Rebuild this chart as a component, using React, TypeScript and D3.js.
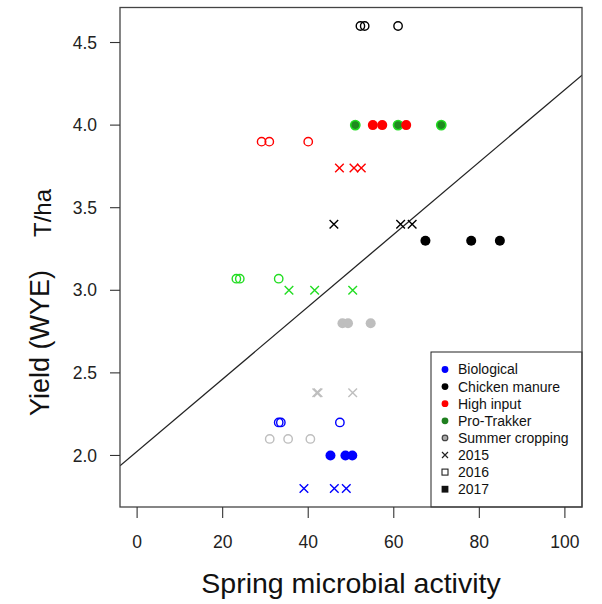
import React from "react";
import * as d3 from "d3";

// ---- data ----
const groups = ["Biological", "Chicken manure", "High input", "Pro-Trakker", "Summer cropping"];
const years = ["2015", "2016", "2017"];

const biologicalX2015 = [39.0, 46.1, 48.9];
const biologicalX2016 = [33.1, 33.6, 47.4];
const biologicalX2017 = [45.2, 48.7, 50.3];
const biologicalYield = [1.8, 2.2, 2.0];

const chickenX2015 = [46.0, 61.6, 64.3];
const chickenX2016 = [52.2, 53.2, 61.0];
const chickenX2017 = [67.4, 78.1, 84.8];
const chickenYield = [3.4, 4.6, 3.3];

const highX2015 = [47.3, 50.7, 52.4];
const highX2016 = [29.1, 30.9, 40.0];
const highX2017 = [55.1, 57.3, 62.9];
const highYield = [3.74, 3.9, 4.0];

const proX2015 = [35.5, 41.5, 50.4];
const proX2016 = [23.2, 24.0, 33.1];
const proX2017 = [51.0, 61.0, 71.1];
const proYield = [3.0, 3.07, 4.0];

const summerX2015 = [42.0, 42.3, 50.4];
const summerX2016 = [31.0, 35.3, 40.5];
const summerX2017 = [48.0, 49.3, 54.6];
const summerYield = [2.38, 2.1, 2.8];

const xTicks = [0, 20, 40, 60, 80, 100];
const yTicks = [2.0, 2.5, 3.0, 3.5, 4.0, 4.5];
const fitIntercept = 2.025;
const fitSlope = 0.0219;

const groupColors = ["#0000ff", "#000000", "#ff0000", "#22dd22", "#bebebe"];
const legendColors = ["#0000ff", "#000000", "#ff0000", "#1f7f1f", "#bebebe"];

const groupX = [
  [biologicalX2015, biologicalX2016, biologicalX2017],
  [chickenX2015, chickenX2016, chickenX2017],
  [highX2015, highX2016, highX2017],
  [proX2015, proX2016, proX2017],
  [summerX2015, summerX2016, summerX2017],
];
const groupYield = [biologicalYield, chickenYield, highYield, proYield, summerYield];

const W = 602;
const H = 604;
const left = 120;
const right = 582;
const top = 7.5;
const bottom = 507;
const FONT = "'Liberation Sans', Arial, Helvetica, sans-serif";

export default function App() {
  const x = d3.scaleLinear().domain([-4, 104]).range([left, right]);
  const y = d3.scaleLinear().domain([1.688, 4.712]).range([bottom, top]);

  const pts: { g: number; yr: number; xv: number; yv: number }[] = [];
  const drawOrder = [4, 0, 1, 3, 2];
  years.forEach((_, yr) => {
    drawOrder.forEach((g) => {
      groupX[g][yr].forEach((xv) => pts.push({ g, yr, xv, yv: groupYield[g][yr] }));
    });
  });

  const renderPoint = (p: { g: number; yr: number; xv: number; yv: number }, i: number) => {
    const cx = x(p.xv);
    const cy = y(p.yv);
    const c = groupColors[p.g];
    if (p.yr === 0) {
      const s = 4.3;
      return (
        <path
          key={i}
          d={`M${cx - s},${cy - s}L${cx + s},${cy + s}M${cx - s},${cy + s}L${cx + s},${cy - s}`}
          stroke={c}
          strokeWidth={1.4}
          fill="none"
        />
      );
    }
    if (p.yr === 1) {
      return <circle key={i} cx={cx} cy={cy} r={4.2} stroke={c} strokeWidth={1.4} fill="none" />;
    }
    if (p.g === 3) {
      return <circle key={i} cx={cx} cy={cy} r={4.6} fill="#1f8a1f" stroke={c} strokeWidth={1.6} />;
    }
    return <circle key={i} cx={cx} cy={cy} r={5} fill={c} />;
  };

  const x0 = -4;
  const x1 = 104;
  const lineData: [number, number][] = [
    [x0, fitIntercept + fitSlope * x0],
    [x1, fitIntercept + fitSlope * x1],
  ];
  const line = d3
    .line<[number, number]>()
    .x((d) => x(d[0]))
    .y((d) => y(d[1]));

  const legendLeft = 431;
  const legendTop = 352;
  const legendRowY = (i: number) => 369.5 + i * 17.1;
  const legendSymX = 445;
  const legendTextX = 458;

  return (
    <svg
      width={W}
      height={H}
      style={{ position: "absolute", left: 0, top: 0, background: "#fff" }}
      fontFamily={FONT}
    >
      <rect x={0} y={0} width={W} height={H} fill="#fff" />
      <defs>
        <clipPath id="plotclip">
          <rect x={left} y={top} width={right - left} height={bottom - top} />
        </clipPath>
      </defs>

      {/* regression line */}
      <path d={line(lineData) || ""} stroke="#222" strokeWidth={1.3} fill="none" clipPath="url(#plotclip)" />

      {/* points */}
      <g clipPath="url(#plotclip)">{pts.map(renderPoint)}</g>

      {/* legend */}
      <rect x={legendLeft} y={legendTop} width={right - legendLeft} height={bottom - legendTop} fill="#fff" stroke="#222" strokeWidth={1} />
      {groups.map((name, i) => (
        <g key={name}>
          {i < 4 ? (
            <circle cx={legendSymX} cy={legendRowY(i)} r={3.4} fill={legendColors[i]} />
          ) : (
            <circle cx={legendSymX} cy={legendRowY(i)} r={2.8} fill="#aaa" stroke="#444" strokeWidth={1.2} />
          )}
          <text x={legendTextX} y={legendRowY(i)} dy="0.35em" fontSize={14} fill="#111">
            {name}
          </text>
        </g>
      ))}
      {years.map((yr, j) => {
        const i = groups.length + j;
        const cy = legendRowY(i);
        const s = 3;
        return (
          <g key={yr}>
            {j === 0 && (
              <path d={`M${legendSymX - s},${cy - s}L${legendSymX + s},${cy + s}M${legendSymX - s},${cy + s}L${legendSymX + s},${cy - s}`} stroke="#222" strokeWidth={1.2} />
            )}
            {j === 1 && <rect x={legendSymX - s} y={cy - s} width={2 * s} height={2 * s} fill="none" stroke="#222" strokeWidth={1.1} />}
            {j === 2 && <rect x={legendSymX - 3.4} y={cy - 3.4} width={6.8} height={6.8} fill="#111" />}
            <text x={legendTextX} y={cy} dy="0.35em" fontSize={14} fill="#111">
              {yr}
            </text>
          </g>
        );
      })}

      {/* plot box */}
      <rect x={left} y={top} width={right - left} height={bottom - top} fill="none" stroke="#444" strokeWidth={1.3} />

      {/* x axis */}
      {xTicks.map((t) => (
        <g key={t}>
          <line x1={x(t)} x2={x(t)} y1={bottom} y2={bottom + 11} stroke="#333" strokeWidth={1.1} />
          <text x={x(t)} y={542} dy="0.35em" textAnchor="middle" fontSize={17.5} fill="#222">
            {t}
          </text>
        </g>
      ))}
      <text x={(left + right) / 2} y={583} dy="0.35em" textAnchor="middle" fontSize={28.5} fill="#111">
        Spring microbial activity
      </text>

      {/* y axis */}
      {yTicks.map((t) => (
        <g key={t}>
          <line x1={left - 10} x2={left} y1={y(t)} y2={y(t)} stroke="#333" strokeWidth={1.1} />
          <text x={97} y={y(t)} dy="0.35em" textAnchor="end" fontSize={17.5} fill="#222">
            {t.toFixed(1)}
          </text>
        </g>
      ))}
      <text transform={`translate(40,${343}) rotate(-90)`} dy="0.35em" textAnchor="middle" fontSize={27} fill="#111">
        Yield (WYE)
      </text>
      <text transform={`translate(43,${213}) rotate(-90)`} dy="0.35em" textAnchor="middle" fontSize={24} fill="#111">
        T/ha
      </text>
    </svg>
  );
}
